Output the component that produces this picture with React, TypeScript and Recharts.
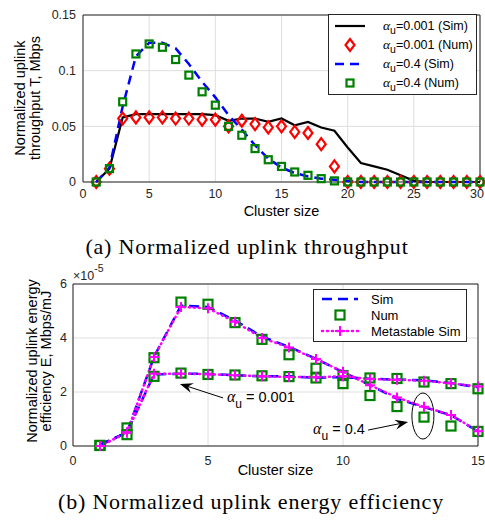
import React from 'react';
import {
  ComposedChart,
  Line,
  XAxis,
  YAxis,
  CartesianGrid,
  Legend,
  ReferenceArea,
  ReferenceLine,
  ReferenceDot,
} from 'recharts';

// (a) throughput vs cluster size
const clusterSizesA = [1, 2, 3, 4, 5, 6, 7, 8, 9, 10, 11, 12, 13, 14, 15, 16, 17, 18, 19, 20, 21, 22, 23, 24, 25, 26, 27, 28, 29, 30];
const simLowA = [0, 0.012, 0.058, 0.061, 0.061, 0.061, 0.061, 0.061, 0.061, 0.06, 0.055, 0.057, 0.057, 0.054, 0.057, 0.051, 0.054, 0.049, 0.046, 0.031, 0.017, 0.014, 0.011, 0.006, 0.001, 0, 0, 0, 0, 0];
const numLowA = [0, 0.012, 0.057, 0.058, 0.058, 0.058, 0.057, 0.057, 0.056, 0.056, 0.05, 0.055, 0.052, 0.049, 0.05, 0.045, 0.044, 0.034, 0.014, 0, 0, 0, 0, 0, 0, 0, 0, 0, 0, 0];
const simHighA = [0, 0.013, 0.068, 0.113, 0.125, 0.125, 0.12, 0.106, 0.09, 0.076, 0.06, 0.047, 0.033, 0.021, 0.013, 0.008, 0.005, 0.003, 0.002, 0.001, 0, 0, 0, 0, 0, 0, 0, 0, 0, 0];
const numHighA = [0, 0.012, 0.072, 0.115, 0.124, 0.121, 0.11, 0.096, 0.081, 0.069, 0.05, 0.042, 0.03, 0.02, 0.014, 0.009, 0.006, 0.003, 0.001, 0, 0, 0, 0, 0, 0, 0, 0, 0, 0, 0];
const xTicksA = [0, 5, 10, 15, 20, 25, 30];
const yTicksA = [0, 0.05, 0.1, 0.15];

// (b) energy efficiency vs cluster size, values in units of 1e-5
const clusterSizesB = [1, 2, 3, 4, 5, 6, 7, 8, 9, 10, 11, 12, 13, 14, 15];
const simLowB = [0.05, 0.5, 2.65, 2.68, 2.67, 2.62, 2.58, 2.58, 2.53, 2.55, 2.49, 2.46, 2.43, 2.33, 2.18];
const simHighB = [0.05, 0.5, 3.3, 5.2, 5.15, 4.65, 4.05, 3.67, 3.23, 2.74, 2.25, 1.75, 1.44, 1.14, 0.54];
const numLowB = [0.02, 0.42, 2.58, 2.7, 2.65, 2.63, 2.6, 2.57, 2.52, 2.61, 2.52, 2.5, 2.37, 2.31, 2.12];
const numHighB = [0.02, 0.67, 3.27, 5.33, 5.25, 4.57, 3.95, 3.38, 2.88, 2.31, 1.87, 1.46, 1.07, 0.74, 0.54];
const metaLowB = [0, 0.5, 2.68, 2.68, 2.66, 2.62, 2.58, 2.56, 2.55, 2.58, 2.48, 2.45, 2.42, 2.32, 2.2];
const metaHighB = [0, 0.5, 3.3, 5.15, 5.1, 4.6, 4.0, 3.65, 3.22, 2.75, 2.25, 1.8, 1.45, 1.15, 0.55];
const xTicksB = [0, 5, 10, 15];
const yTicksB = [0, 2, 4, 6];

const rowsA = clusterSizesA.map((x, i) => ({
  x,
  simLow: simLowA[i],
  numLow: numLowA[i],
  simHigh: simHighA[i],
  numHigh: numHighA[i],
}));

const rowsB = clusterSizesB.map((x, i) => ({
  x,
  simLow: simLowB[i],
  simHigh: simHighB[i],
  numLow: numLowB[i],
  numHigh: numHighB[i],
  metaLow: metaLowB[i],
  metaHigh: metaHighB[i],
}));

const SANS = '"Liberation Sans", Arial, Helvetica, sans-serif';
const SERIF = '"Liberation Serif", "Times New Roman", serif';
const AXIS = '#262626';
const GRID = '#dedede';
const GREEN = '#008000';
const MAGENTA = '#ff00ff';

const tickStyle = { fontSize: 12.5, fill: AXIS, fontFamily: SANS };

// x tick for (a): the last label sits at the page edge, so pull it in a bit
const XTickA = (props: any) => {
  const { x, y, payload } = props;
  const last = payload.value === xTicksA[xTicksA.length - 1];
  return (
    <text
      x={last ? x + 4 : x}
      y={y}
      dy={9}
      textAnchor={last ? 'end' : 'middle'}
      fontSize={12.5}
      fontFamily={SANS}
      fill={AXIS}
    >
      {payload.value}
    </text>
  );
};

// markers
const Diamond = (props: any) => {
  const { cx, cy } = props;
  if (cx == null || cy == null) return null;
  return (
    <path
      d={`M${cx},${cy - 6} L${cx + 4.5},${cy} L${cx},${cy + 6} L${cx - 4.5},${cy} Z`}
      fill="none"
      stroke="#ff0000"
      strokeWidth={2.2}
    />
  );
};

const Square = (props: any) => {
  const { cx, cy, size = 7 } = props;
  if (cx == null || cy == null) return null;
  return (
    <rect x={cx - size / 2} y={cy - size / 2} width={size} height={size} fill="none" stroke={GREEN} strokeWidth={2.2} />
  );
};

const Plus = (props: any) => {
  const { cx, cy } = props;
  if (cx == null || cy == null) return null;
  return (
    <path d={`M${cx - 5},${cy} H${cx + 5} M${cx},${cy - 5} V${cy + 5}`} stroke={MAGENTA} strokeWidth={2} />
  );
};

const Alpha = ({ size = 13 }: { size?: number }) => (
  <span style={{ fontFamily: SERIF, fontStyle: 'italic', fontSize: size + 1 }}>
    α
    <span style={{ fontFamily: SANS, fontStyle: 'normal', fontSize: size - 2, position: 'relative', top: 4 }}>u</span>
  </span>
);

const legendBox = {
  border: `1px solid ${AXIS}`,
  background: '#fff',
  boxSizing: 'border-box' as const,
  fontFamily: SANS,
  color: '#000',
};

const ThroughputLegend = () => {
  const rows = [
    { mark: <line x1={0} y1={9} x2={30} y2={9} stroke="#000" strokeWidth={2.2} />, text: '=0.001 (Sim)' },
    { mark: <Diamond cx={15} cy={9} />, text: '=0.001 (Num)' },
    { mark: <line x1={0} y1={9} x2={30} y2={9} stroke="#0000ff" strokeWidth={2.5} strokeDasharray="9 6" />, text: '=0.4 (Sim)' },
    { mark: <Square cx={15} cy={9} />, text: '=0.4 (Num)' },
  ];
  return (
    <div style={{ ...legendBox, width: 149, height: 81, padding: '1px 0', fontSize: 12.5 }}>
      {rows.map((r, i) => (
        <div key={i} style={{ height: 19, display: 'flex', alignItems: 'center' }}>
          <svg width={30} height={18} style={{ marginLeft: 6, marginRight: 18, overflow: 'visible' }}>
            {r.mark}
          </svg>
          <span style={{ whiteSpace: 'nowrap' }}>
            <Alpha size={12.5} />
            {r.text}
          </span>
        </div>
      ))}
    </div>
  );
};

const EfficiencyLegend = () => {
  const rows = [
    { mark: <line x1={0} y1={8} x2={36} y2={8} stroke="#0000ff" strokeWidth={2.5} strokeDasharray="10 6" />, text: 'Sim' },
    { mark: <Square cx={18} cy={8} size={9} />, text: 'Num' },
    {
      mark: (
        <g>
          <line x1={0} y1={8} x2={36} y2={8} stroke={MAGENTA} strokeWidth={2.5} strokeDasharray="1 4" strokeLinecap="round" />
          <Plus cx={18} cy={8} />
        </g>
      ),
      text: 'Metastable Sim',
    },
  ];
  return (
    <div style={{ ...legendBox, width: 154, height: 53, padding: '1px 0', fontSize: 13 }}>
      {rows.map((r, i) => (
        <div key={i} style={{ height: 16, display: 'flex', alignItems: 'center' }}>
          <svg width={36} height={16} style={{ marginLeft: 8, marginRight: 13, overflow: 'visible' }}>
            {r.mark}
          </svg>
          <span style={{ whiteSpace: 'nowrap' }}>{r.text}</span>
        </div>
      ))}
    </div>
  );
};

// arrow drawn from segment start (tail) to segment end (tip)
const Arrow = (props: any) => {
  const { x1, y1, x2, y2 } = props;
  if ([x1, y1, x2, y2].some((v) => v == null || isNaN(v))) return null;
  const ang = Math.atan2(y2 - y1, x2 - x1);
  const len = 13;
  const w = 5;
  const bx = x2 - len * Math.cos(ang);
  const by = y2 - len * Math.sin(ang);
  const nx = x2 - 0.65 * len * Math.cos(ang);
  const ny = y2 - 0.65 * len * Math.sin(ang);
  const px = -Math.sin(ang) * w;
  const py = Math.cos(ang) * w;
  return (
    <g>
      <line x1={x1} y1={y1} x2={nx} y2={ny} stroke="#000" strokeWidth={1} />
      <path d={`M${x2},${y2} L${bx + px},${by + py} L${nx},${ny} L${bx - px},${by - py} Z`} fill="#000" />
    </g>
  );
};

const AlphaLabel = (text: string) => (props: any) => {
  const { cx, cy } = props;
  if (cx == null || cy == null) return null;
  return (
    <text x={cx} y={cy} fontFamily={SANS} fontSize={14.5} fill="#000">
      <tspan fontFamily={SERIF} fontStyle="italic" fontSize={16}>α</tspan>
      <tspan dy={6} fontSize={12}>u</tspan>
      <tspan dy={-6}>{text}</tspan>
    </text>
  );
};

const Ellipse = (props: any) => {
  const { cx, cy } = props;
  if (cx == null || cy == null) return null;
  return <ellipse cx={cx} cy={cy} rx={11} ry={23} fill="none" stroke="#000" strokeWidth={1} />;
};

const rotatedLabel = (cx: number, cy: number, w: number, lh: number, lines: string[]) => (
  <div
    style={{
      position: 'absolute',
      left: cx - w / 2,
      top: cy - lh,
      width: w,
      height: lh * 2,
      lineHeight: `${lh}px`,
      transform: 'rotate(-90deg)',
      textAlign: 'center',
      fontFamily: SANS,
      fontSize: 14.5,
      color: '#000',
      whiteSpace: 'nowrap',
    }}
  >
    {lines.map((l) => (
      <div key={l}>{l}</div>
    ))}
  </div>
);

const App = () => {
  return (
    <div style={{ position: 'absolute', left: 0, top: 0, width: 485, height: 520, background: '#fff' }}>
      {/* (a) */}
      <div style={{ position: 'absolute', left: 0, top: 0 }}>
        <ComposedChart width={485} height={210} data={rowsA} margin={{ top: 15, right: 5, bottom: 8, left: 43 }}>
          <CartesianGrid stroke={GRID} strokeWidth={1} />
          <XAxis
            dataKey="x"
            type="number"
            domain={[0, 30]}
            ticks={xTicksA}
            height={20}
            axisLine={false}
            tickLine={false}
            tickSize={0}
            tickMargin={7}
            tick={<XTickA />}
            interval={0}
          />
          <YAxis
            type="number"
            domain={[0, 0.15]}
            ticks={yTicksA}
            width={40}
            axisLine={false}
            tickLine={false}
            tickSize={0}
            tickMargin={7}
            tick={tickStyle}
            interval={0}
            tickFormatter={(v: number) => String(v)}
          />
          <ReferenceArea x1={0} x2={30} y1={0} y2={0.15} fill="none" stroke={AXIS} strokeWidth={1} />
          <Line dataKey="simLow" type="linear" stroke="#000" strokeWidth={2.2} dot={false} isAnimationActive={false} />
          <Line dataKey="numLow" type="linear" stroke="none" dot={<Diamond />} activeDot={false} isAnimationActive={false} />
          <Line
            dataKey="simHigh"
            type="linear"
            stroke="#0000ff"
            strokeWidth={2.5}
            strokeDasharray="9 6"
            dot={false}
            isAnimationActive={false}
          />
          <Line dataKey="numHigh" type="linear" stroke="none" dot={<Square />} activeDot={false} isAnimationActive={false} />
          <Legend
            layout="horizontal"
            verticalAlign="middle"
            align="center"
            content={<ThroughputLegend />}
            wrapperStyle={{ top: 14, left: 328, width: 149, height: 81 }}
          />
        </ComposedChart>
      </div>
      {rotatedLabel(28, 98, 170, 15, ['Normalized uplink', 'throughput T, Mbps'])}
      <div
        style={{ position: 'absolute', left: 0, width: 563, top: 203, textAlign: 'center', fontFamily: SANS, fontSize: 14.5, lineHeight: '17px' }}
      >
        Cluster size
      </div>
      <div
        style={{ position: 'absolute', left: 0, width: 494, top: 236, textAlign: 'center', fontFamily: SERIF, fontSize: 22, lineHeight: '22px', letterSpacing: 0.8, whiteSpace: 'nowrap' }}
      >
        (a) Normalized uplink throughput
      </div>

      {/* (b) */}
      <div style={{ position: 'absolute', left: 0, top: 262 }}>
        <ComposedChart width={485} height={215} data={rowsB} margin={{ top: 22, right: 7, bottom: 11, left: 33 }}>
          <CartesianGrid stroke={GRID} strokeWidth={1} />
          <XAxis
            dataKey="x"
            type="number"
            domain={[0, 15]}
            ticks={xTicksB}
            height={20}
            axisLine={false}
            tickLine={false}
            tickSize={0}
            tickMargin={10}
            tick={tickStyle}
            interval={0}
          />
          <YAxis
            type="number"
            domain={[0, 6]}
            ticks={yTicksB}
            width={40}
            axisLine={false}
            tickLine={false}
            tickSize={0}
            tickMargin={6}
            tick={tickStyle}
            interval={0}
          />
          <ReferenceArea x1={0} x2={15} y1={0} y2={6} fill="none" stroke={AXIS} strokeWidth={1} />
          <Line dataKey="simLow" type="linear" stroke="#0000ff" strokeWidth={2.5} strokeDasharray="10 6" dot={false} isAnimationActive={false} />
          <Line dataKey="simHigh" type="linear" stroke="#0000ff" strokeWidth={2.5} strokeDasharray="10 6" dot={false} isAnimationActive={false} />
          <Line dataKey="numLow" type="linear" stroke="none" dot={<Square size={9} />} activeDot={false} isAnimationActive={false} />
          <Line dataKey="numHigh" type="linear" stroke="none" dot={<Square size={9} />} activeDot={false} isAnimationActive={false} />
          <Line
            dataKey="metaLow"
            type="linear"
            stroke={MAGENTA}
            strokeWidth={2.5}
            strokeDasharray="1 4"
            strokeLinecap="round"
            dot={<Plus />}
            activeDot={false}
            isAnimationActive={false}
          />
          <Line
            dataKey="metaHigh"
            type="linear"
            stroke={MAGENTA}
            strokeWidth={2.5}
            strokeDasharray="1 4"
            strokeLinecap="round"
            dot={<Plus />}
            activeDot={false}
            isAnimationActive={false}
          />
          <ReferenceLine segment={[{ x: 5.56, y: 1.78 }, { x: 3.96, y: 2.3 }]} shape={<Arrow />} />
          <ReferenceLine segment={[{ x: 10.93, y: 0.59 }, { x: 12.41, y: 0.89 }]} shape={<Arrow />} />
          <ReferenceDot x={5.7} y={1.63} shape={AlphaLabel(' = 0.001')} />
          <ReferenceDot x={8.89} y={0.44} shape={AlphaLabel(' = 0.4')} />
          <ReferenceDot x={12.96} y={1.11} shape={<Ellipse />} />
          <Legend
            layout="horizontal"
            verticalAlign="middle"
            align="center"
            content={<EfficiencyLegend />}
            wrapperStyle={{ top: 27, left: 313, width: 154, height: 53 }}
          />
        </ComposedChart>
      </div>
      <div style={{ position: 'absolute', left: 73, top: 270, fontFamily: SANS, fontSize: 12.5, lineHeight: '13px', color: AXIS, whiteSpace: 'nowrap' }}>
        ×10<span style={{ fontSize: 10.5, position: 'relative', top: -8 }}>-5</span>
      </div>
      {rotatedLabel(39, 361, 190, 14, ['Normalized uplink energy', 'efficiency E, Mbps/mJ'])}
      <div
        style={{ position: 'absolute', left: 0, width: 551, top: 462, textAlign: 'center', fontFamily: SANS, fontSize: 14.5, lineHeight: '17px' }}
      >
        Cluster size
      </div>
      <div
        style={{ position: 'absolute', left: 0, width: 502, top: 491, textAlign: 'center', fontFamily: SERIF, fontSize: 22, lineHeight: '22px', letterSpacing: 0.8, whiteSpace: 'nowrap' }}
      >
        (b) Normalized uplink energy efficiency
      </div>
    </div>
  );
};

export default App;
